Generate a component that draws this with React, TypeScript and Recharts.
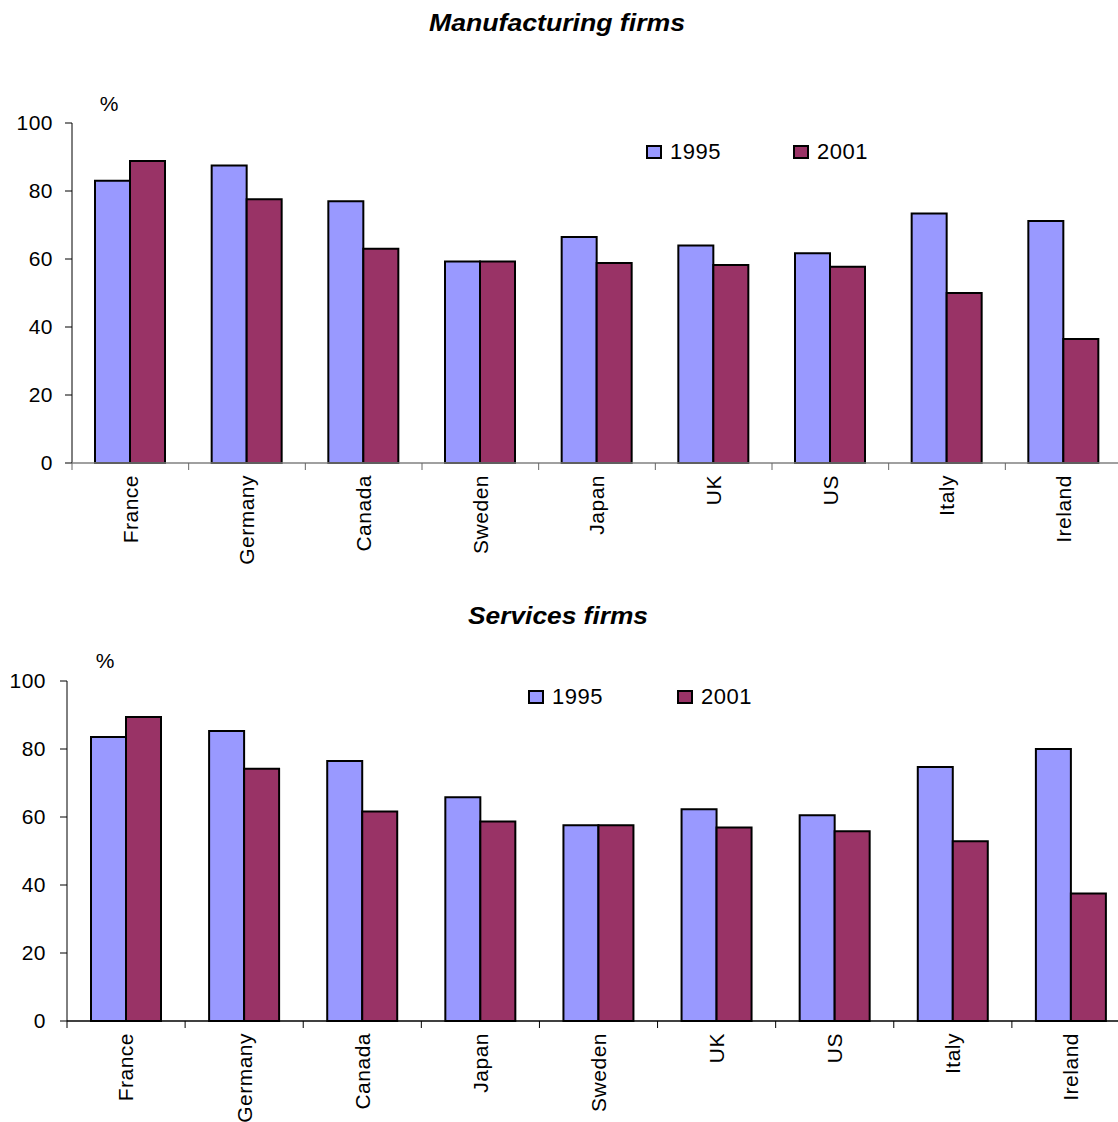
import { BarChart, Bar, XAxis, YAxis, Legend } from 'recharts';

// Share of firms (%) by country, two survey years
const manufacturingCountries = ['France', 'Germany', 'Canada', 'Sweden', 'Japan', 'UK', 'US', 'Italy', 'Ireland'];
const manufacturing1995 = [83, 87.5, 77, 59.3, 66.5, 64, 61.7, 73.4, 71.2];
const manufacturing2001 = [88.8, 77.6, 63, 59.3, 58.8, 58.2, 57.7, 50, 36.5];

const servicesCountries = ['France', 'Germany', 'Canada', 'Japan', 'Sweden', 'UK', 'US', 'Italy', 'Ireland'];
const services1995 = [83.5, 85.3, 76.5, 65.8, 57.6, 62.3, 60.5, 74.7, 80];
const services2001 = [89.4, 74.2, 61.6, 58.7, 57.6, 56.9, 55.8, 52.9, 37.5];

const yTicks = [0, 20, 40, 60, 80, 100];
const seriesNames = ['1995', '2001'];

const FONT = 'Arial, "Liberation Sans", sans-serif';
const BLUE = '#9999FF';
const PLUM = '#993366';

const toRows = (countries: string[], a: number[], b: number[]) =>
  countries.map((country, i) => ({ country, y1995: a[i], y2001: b[i] }));

// category label plus a tick mark on the left edge of each band
function makeCountryTick(fallbackHalf: number, lineColor: string) {
  return function CountryTick(props: any) {
    const { x, y, payload } = props;
    const half = typeof payload?.offset === 'number' && payload.offset > 0 ? payload.offset : fallbackHalf;
    const edge = x - half;
    const ly = y + 12;
    return (
      <g>
        <line x1={edge} y1={y} x2={edge} y2={y + 7} stroke={lineColor} strokeWidth={1} />
        <text
          x={x}
          y={ly}
          dy="0.35em"
          textAnchor="end"
          transform={`rotate(-90, ${x}, ${ly})`}
          fontSize={21}
          fill="#000"
        >
          {payload.value}
        </text>
      </g>
    );
  };
}

function LegendBoxes(props: any) {
  const { payload = [], itemWidth } = props;
  return (
    <div style={{ display: 'flex', fontFamily: FONT, fontSize: 22, lineHeight: '22px', color: '#000' }}>
      {payload.map((entry: any) => (
        <div key={entry.value} style={{ width: itemWidth, display: 'flex', alignItems: 'center' }}>
          <span
            style={{
              display: 'inline-block',
              width: 12,
              height: 10,
              border: '2px solid #000',
              background: entry.color,
              marginRight: 8,
            }}
          />
          <span>{entry.value}</span>
        </div>
      ))}
    </div>
  );
}

interface PanelProps {
  rows: Array<{ country: string; y1995: number; y2001: number }>;
  width: number;
  height: number;
  top: number;
  axisWidth: number;
  tickMargin: number;
  xAxisColor: string;
  legendLeft: number;
  legendTop: number;
  legendItemWidth: number;
}

function Panel({ rows, width, height, top, axisWidth, tickMargin, xAxisColor, legendLeft, legendTop, legendItemWidth }: PanelProps) {
  const half = (width - axisWidth) / rows.length / 2;
  return (
    <div style={{ position: 'absolute', left: 0, top }}>
      <BarChart
        width={width}
        height={height}
        data={rows}
        margin={{ top: 121, right: 0, left: 0, bottom: 0 }}
        barGap={0}
      >
        <YAxis
          width={axisWidth}
          domain={[0, 100]}
          ticks={yTicks}
          interval={0}
          tickSize={7}
          tickMargin={tickMargin}
          axisLine={{ stroke: '#000' }}
          tickLine={{ stroke: '#000' }}
          tick={{ fill: '#000', fontSize: 21 }}
        />
        <XAxis
          dataKey="country"
          type="category"
          interval={0}
          height={110}
          tickSize={0}
          tickMargin={0}
          tickLine={false}
          axisLine={{ stroke: xAxisColor, strokeWidth: 1.5 }}
          tick={makeCountryTick(half, xAxisColor === '#000' ? '#000' : '#666')}
        />
        <Legend
          layout="horizontal"
          align="center"
          verticalAlign="middle"
          wrapperStyle={{ left: legendLeft, top: legendTop, width: 'auto' }}
          content={(p: any) => <LegendBoxes {...p} itemWidth={legendItemWidth} />}
        />
        <Bar dataKey="y1995" name={seriesNames[0]} fill={BLUE} stroke="#000" strokeWidth={2} barSize={35} isAnimationActive={false} />
        <Bar dataKey="y2001" name={seriesNames[1]} fill={PLUM} stroke="#000" strokeWidth={2} barSize={35} isAnimationActive={false} />
      </BarChart>
    </div>
  );
}

export default function App() {
  return (
    <div
      style={{
        position: 'absolute',
        left: 0,
        top: 0,
        width: 1118,
        height: 1122,
        overflow: 'hidden',
        background: '#fff',
        fontFamily: FONT,
        letterSpacing: 0.5,
      }}
    >
      <Panel
        rows={toRows(manufacturingCountries, manufacturing1995, manufacturing2001)}
        width={1122}
        height={571}
        top={2}
        axisWidth={72}
        tickMargin={12}
        xAxisColor="#808080"
        legendLeft={646}
        legendTop={139}
        legendItemWidth={147}
      />
      <Panel
        rows={toRows(servicesCountries, services1995, services2001)}
        width={1130}
        height={571}
        top={560}
        axisWidth={67}
        tickMargin={14}
        xAxisColor="#000"
        legendLeft={528}
        legendTop={126}
        legendItemWidth={149}
      />
      <svg
        width={1118}
        height={1122}
        style={{ position: 'absolute', left: 0, top: 0, pointerEvents: 'none', letterSpacing: 0 }}
      >
        <text x={557} y={31} textAnchor="middle" fontSize={23} fontWeight="bold" fontStyle="italic" textLength={256} lengthAdjust="spacingAndGlyphs">
          Manufacturing firms
        </text>
        <text x={558} y={624} textAnchor="middle" fontSize={23} fontWeight="bold" fontStyle="italic" textLength={180} lengthAdjust="spacingAndGlyphs">
          Services firms
        </text>
        <text x={109} y={111} textAnchor="middle" fontSize={21}>%</text>
        <text x={105} y={668} textAnchor="middle" fontSize={21}>%</text>
      </svg>
    </div>
  );
}
